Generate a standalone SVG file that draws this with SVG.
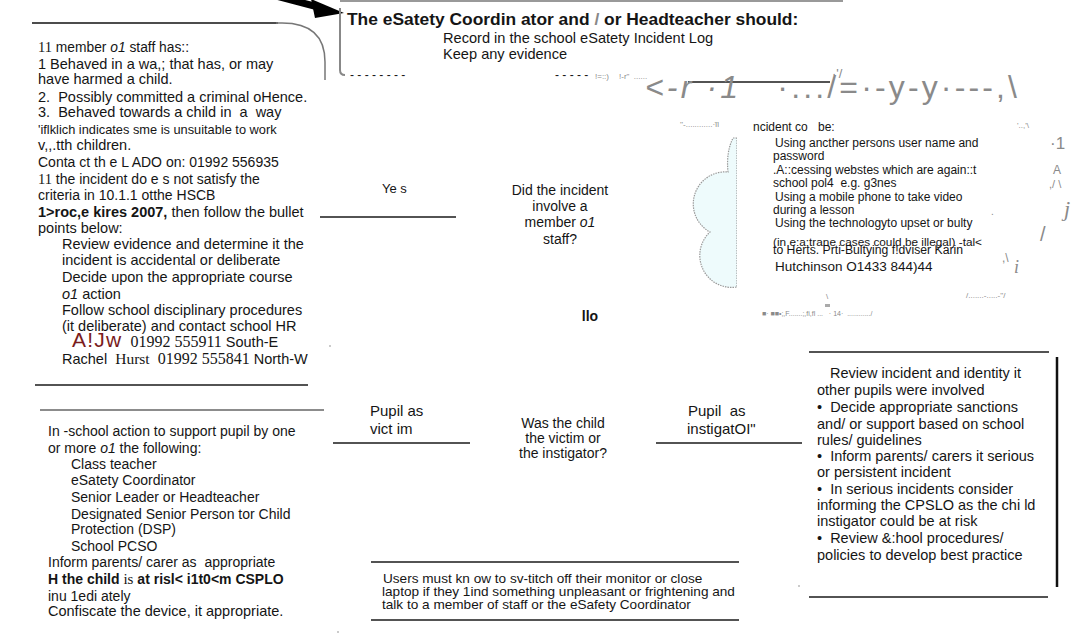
<svg xmlns="http://www.w3.org/2000/svg" width="1082" height="641" viewBox="0 0 1082 641" xml:space="preserve">
<style>
text{font-family:"Liberation Sans",Arial,sans-serif;fill:#151515;white-space:pre}
.l{font-size:14.5px}
.m{font-size:14px}
.n{font-size:14.5px}
.r{font-size:12px}
.sr{font-family:"Liberation Serif","Times New Roman",serif}
.b{font-weight:bold}
.i{font-style:italic}
.g{fill:#8a8a8a}
.ln{stroke:#1a1a1a;stroke-width:1.5;fill:none}
.gl{stroke:#777;stroke-width:1.5;fill:none}
.ctr{text-anchor:middle}
</style>
<rect width="1082" height="641" fill="#fff"/>

<g id="connectors">
  <line x1="32" y1="23" x2="278" y2="23" stroke="#111" stroke-width="1.5"/>
  <path class="gl" d="M276,23 L282,23 Q325,23 325,62 L325,80"/>
  <line x1="276" y1="-4" x2="322" y2="8" stroke="#000" stroke-width="7"/>
  <polygon points="311,-1 344,13 315,18" fill="#000"/>
  <line class="ln" x1="320" y1="217" x2="456" y2="217"/>
  <text x="382" y="193" font-size="13" fill="#555">Ye s</text>
  <text class="m b" x="590" y="321" text-anchor="middle">llo</text>
  <line class="ln" x1="333" y1="443" x2="470" y2="443"/>
  <text x="370" y="416" font-size="15">Pupil as</text>
  <text x="370" y="434" font-size="15">vict im</text>
  <line class="ln" x1="656" y1="443" x2="802" y2="443"/>
  <text x="688" y="416" font-size="15">Pupil  as</text>
  <text x="687" y="434" font-size="15">instigatOI"</text>
  <line class="ln" x1="688" y1="82" x2="830" y2="82"/>
  <text class="g" x="832" y="78" font-size="13">·'/</text>
  <text class="g" x="645" y="98" font-size="32" textLength="372" lengthAdjust="spacing"><tspan class="i">&lt;-r ·1</tspan>   ·.../=·-y-y·---,\</text>
  <text x="350" y="79" font-size="12" fill="#666">- - - - - - - -</text>
  <text x="555" y="79" font-size="12" fill="#666">- - - - -  <tspan font-size="8" class="g">!=::)</tspan>   <tspan font-size="8" class="g">!-r"  ......</tspan></text>
  <text class="g" x="680" y="127" font-size="8">''-............·ĩl</text>
  <text class="g" x="1017" y="128" font-size="8">'..,'\</text>
  <text class="g" x="1050" y="149" font-size="17">·1</text>
  <text class="g" x="1053" y="174" font-size="12">A</text>
  <text class="g" x="1049" y="188" font-size="11">,/ \</text>
  <text class="g sr i" x="1064" y="216" font-size="22">j</text>
  <text class="g" x="1040" y="241" font-size="20">/</text>
  <text class="g" x="1002" y="262" font-size="12">,\</text>
  <text class="g" x="991" y="215" font-size="10">.</text>
  <text class="g sr i" x="1014" y="273" font-size="18">i</text>
  <text class="g" x="826" y="299" font-size="8">\</text>
  <text class="g" x="966" y="298" font-size="8">/.......-.....-''/</text>
  <rect x="825" y="304" width="5" height="3" fill="#aaa"/>
  <text class="g" x="762" y="316" font-size="7">■· ■■•;,F.......;,fi,fl ...   · 14·  ............/</text>
  <circle cx="338" cy="632" r="0.8" fill="#888"/>
  <circle cx="330" cy="346" r="0.8" fill="#888"/>
  <circle cx="799" cy="586" r="0.8" fill="#888"/>
</g>

<g id="node-staff-info">
  <text x="38" y="52" font-size="13.8"><tspan class="sr" font-size="14.5">11</tspan> member <tspan class="i">o1</tspan> staff has::</text>
  <text class="l" x="38" y="68.5">1 Behaved in a wa,; that has, or may</text>
  <text class="l" x="38" y="84">have harmed a child.</text>
  <text class="l" x="38" y="102">2.  Possibly committed a criminal oHence.</text>
  <text class="l" x="38" y="117">3.  Behaved towards a child in  a  way</text>
  <text x="38" y="134" font-size="12.8">'iflklich indicates sme is unsuitable to work</text>
  <text class="l" x="38" y="150">v,,.tth children.</text>
  <text x="38" y="167" font-size="14">Conta ct th e L ADO on: 01992 556935</text>
  <text x="38" y="183.5" font-size="14"><tspan class="sr" font-size="14.5">11</tspan> the incident do e s not satisfy the</text>
  <text x="38" y="199.5" font-size="14">criteria in 10.1.1 otthe HSCB</text>
  <text class="l" x="38" y="217"><tspan class="b">1&gt;roc,e kires 2007,</tspan> then follow the bullet</text>
  <text class="l" x="38" y="233">points below:</text>
  <text class="l" x="62" y="249">Review evidence and determine it the</text>
  <text class="l" x="62" y="265">incident is accidental or deliberate</text>
  <text class="l" x="62" y="282">Decide upon the appropriate course</text>
  <text class="l" x="62" y="298.5"><tspan class="i">o1</tspan> action</text>
  <text class="l" x="62" y="314.5">Follow school disciplinary procedures</text>
  <text class="l" x="62" y="330.5">(it deliberate) and contact school HR</text>
  <text class="l" x="72" y="347"><tspan font-size="21" fill="#7a1c1c" letter-spacing="1.2">A!Jw</tspan>  <tspan class="sr" font-size="16">01992 555911</tspan> South-E</text>
  <text class="l" x="62" y="364">Rachel  <tspan class="sr" font-size="15.5">Hurst</tspan>  <tspan class="sr" font-size="16">01992 555841</tspan> North-W</text>
  <line class="ln" x1="35" y1="385" x2="308" y2="385"/>
</g>

<g id="node-esafety">
  <line class="gl" x1="340" y1="1" x2="843" y2="1"/>
  <path d="M340,8 L340,70 Q340,75 345,75" stroke="#888" stroke-width="2" fill="none"/>
  <text x="347" y="25" font-size="17.4" class="b">The eSatety Coordin ator and <tspan fill="#888">/</tspan> or Headteacher should:</text>
  <text x="443" y="43" font-size="14.6">Record in the school eSatety Incident Log</text>
  <text x="443" y="58.5" font-size="14.6">Keep any evidence</text>
</g>

<g id="node-question-staff">
  <text class="m ctr" x="560" y="194.5">Did the incident</text>
  <text class="m ctr" x="560" y="211">involve a</text>
  <text class="m ctr" x="560" y="227">member <tspan class="i">o1</tspan></text>
  <text class="m ctr" x="560" y="244">staff?</text>
</g>

<g id="node-incident-examples">
  <clipPath id="cc"><rect x="680" y="130" width="57" height="170"/></clipPath>
  <path d="M737,138 L733,138 Q726,152 728,172 A32,32 0 0 0 710,232 A32,32 0 0 0 737,287 Z" fill="#eefbfc" stroke="#999" stroke-width="1.2" stroke-dasharray="1.5 1" clip-path="url(#cc)"/>
  <text class="r" x="753" y="131">ncident co</text>
  <text class="r" x="818" y="131">be:</text>
  <text class="r" x="775" y="147">Using ancther persons user name and</text>
  <text class="r" x="773" y="160">password</text>
  <text class="r" x="773" y="174">.A::cessing webstes which are again::t</text>
  <text class="r" x="773" y="187">school pol4  e.g. g3nes</text>
  <text class="r" x="775" y="201">Using a mobile phone to take video</text>
  <text class="r" x="773" y="214">during a lesson</text>
  <text class="r" x="775" y="227">Using the technologyto upset or bulty</text>
  <text x="773" y="246" font-size="11.5" textLength="209" lengthAdjust="spacingAndGlyphs">(in e:a:trane cases could be illegal) -tal&lt;</text>
  <text x="773" y="254" font-size="12" textLength="190" lengthAdjust="spacingAndGlyphs">to Herts. Prti-Bultying f!dviser Karin</text>
  <text x="775" y="271" font-size="13.5">Hutchinson O1433 844)44</text>
</g>

<g id="node-victim-actions">
  <line x1="40" y1="410" x2="324" y2="410" stroke="#666" stroke-width="1.5"/>
  <text class="m" x="48" y="436">In -school action to support pupil by one</text>
  <text class="m" x="48" y="453">or more <tspan class="i">o1</tspan> the following:</text>
  <text class="m" x="71" y="468.5">Class teacher</text>
  <text class="m" x="71" y="485">eSatety Coordinator</text>
  <text class="m" x="71" y="502">Senior Leader or Headteacher</text>
  <text class="m" x="71" y="518.5">Designated Senior Person tor Child</text>
  <text class="m" x="71" y="534">Protection (DSP)</text>
  <text class="m" x="71" y="551">School PCSO</text>
  <text class="m" x="48" y="567">Inform parents/ carer as  appropriate</text>
  <text class="m b" x="48" y="584">H the child <tspan class="sr" font-weight="normal" font-size="15">is</tspan> at risl&lt; i1t0&lt;m CSPLO</text>
  <text class="m" x="48" y="601">inu 1edi ately</text>
  <text class="n" x="48" y="616">Confiscate the device, it appropriate.</text>
</g>

<g id="node-question-child">
  <text class="m ctr" x="563" y="428">Was the child</text>
  <text class="m ctr" x="563" y="443">the victim or</text>
  <text class="m ctr" x="563" y="458">the instigator?</text>
</g>

<g id="node-users-note">
  <line class="ln" x1="371" y1="562" x2="739" y2="562"/>
  <text x="383" y="582.5" font-size="13.6">Users must kn ow to sv-titch off their monitor or close</text>
  <text x="382" y="596" font-size="13.6">laptop if they 1ind something unpleasant or frightening and</text>
  <text x="382" y="609" font-size="13.6">talk to a member of staff or the eSafety Coordinator</text>
  <line class="ln" x1="371" y1="620" x2="739" y2="620"/>
</g>

<g id="node-instigator-actions">
  <line class="ln" x1="809" y1="352" x2="1049" y2="352"/>
  <line x1="1057" y1="357" x2="1057" y2="587" stroke="#111" stroke-width="2.5"/>
  <line class="ln" x1="809" y1="597" x2="1048" y2="597"/>
  <text class="n" x="830" y="378">Review incident and identity it</text>
  <text class="n" x="817" y="394.5">other pupils were involved</text>
  <text class="n" x="817" y="412">•  Decide appropriate sanctions</text>
  <text class="n" x="817" y="428.5">and/ or support based on school</text>
  <text class="n" x="817" y="444.5">rules/ guidelines</text>
  <text class="n" x="817" y="461">•  Inform parents/ carers it serious</text>
  <text class="n" x="817" y="477">or persistent incident</text>
  <text class="n" x="817" y="493.5">•  In serious incidents consider</text>
  <text class="n" x="817" y="510">informing the CPSLO as the chi ld</text>
  <text class="n" x="817" y="526">instigator could be at risk</text>
  <text class="n" x="817" y="543">•  Review &amp;:hool procedures/</text>
  <text class="n" x="817" y="559.5">policies to develop best practice</text>
</g>
</svg>
